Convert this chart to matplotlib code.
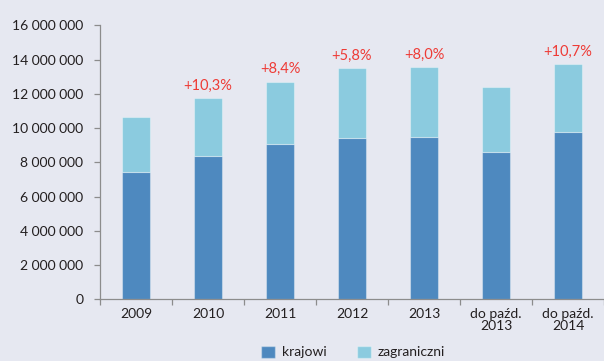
import matplotlib
matplotlib.use("Agg")
import matplotlib.pyplot as plt
from matplotlib.patches import Patch
import numpy as np

categories = ["2009", "2010", "2011", "2012", "2013", "do paźd.\n2013", "do paźd.\n2014"]
krajowi = [7450000, 8390000, 9070000, 9440000, 9500000, 8580000, 9790000]
zagraniczni = [3180000, 3350000, 3640000, 4050000, 4050000, 3840000, 3930000]
growth = ["", "+10,3%", "+8,4%", "+5,8%", "+8,0%", "", "+10,7%"]

bg = "#E6E8F1"
c_kraj = "#4E89BF"
c_zagr = "#8BCBDF"
txt = "#231F20"

plt.rcParams['font.family'] = ['Lato', 'DejaVu Sans']

fig = plt.figure(figsize=(6.04, 3.61), dpi=100, facecolor=bg)
ax = fig.add_axes([100 / 604, (361 - 299.3) / 361, 504 / 604, (299.3 - 25.3) / 361])
ax.set_facecolor(bg)

x = np.arange(len(categories))
w = 0.40
ax.bar(x, krajowi, width=w, color=c_kraj, edgecolor=(1, 1, 1, 0.35), linewidth=0.8)
totals = [k + z for k, z in zip(krajowi, zagraniczni)]
ax.bar(x, zagraniczni, width=w, bottom=krajowi, color=c_zagr,
       edgecolor=(1, 1, 1, 0.35), linewidth=0.8)

for xi, t, g in zip(x, totals, growth):
    if g:
        ax.annotate(g, (xi, t), xytext=(0, 4), textcoords="offset points",
                    ha="center", va="bottom", color="#EE3B36", fontsize=10.5)

ax.set_xlim(-0.5, len(categories) - 0.5)
ax.set_ylim(0, 16000000)
yt = np.arange(0, 16000001, 2000000)
ax.set_yticks(yt)
ax.set_yticklabels(["{:,}".format(v).replace(",", " ") for v in yt],
                   fontsize=10, color=txt)
ax.set_xticks(x)
ax.set_xticklabels(categories, fontsize=10, color=txt, linespacing=1.0)
ax.set_xticks(np.arange(-0.5, len(categories), 1), minor=True)
ax.tick_params(axis="x", which="major", length=0, pad=6)
ax.tick_params(axis="x", which="minor", length=4, color="#8C8C8C", width=0.9)
ax.tick_params(axis="y", length=4, color="#8C8C8C", width=0.9, pad=8)

for s in ["top", "right"]:
    ax.spines[s].set_visible(False)
for s in ["left", "bottom"]:
    ax.spines[s].set_color("#8C8C8C")
    ax.spines[s].set_linewidth(0.9)

handles = [Patch(facecolor=c_kraj, edgecolor=(1, 1, 1, 0.35), label="krajowi"),
           Patch(facecolor=c_zagr, edgecolor=(1, 1, 1, 0.35), label="zagraniczni")]
fig.legend(handles=handles, loc="center", bbox_to_anchor=(353 / 604, 1 - 352 / 361),
           ncol=2, frameon=False, fontsize=10, handlelength=1.0, handleheight=1.0,
           handletextpad=0.5, columnspacing=2.2, labelcolor=txt)

fig.savefig("out.png", dpi=100, facecolor=bg)
